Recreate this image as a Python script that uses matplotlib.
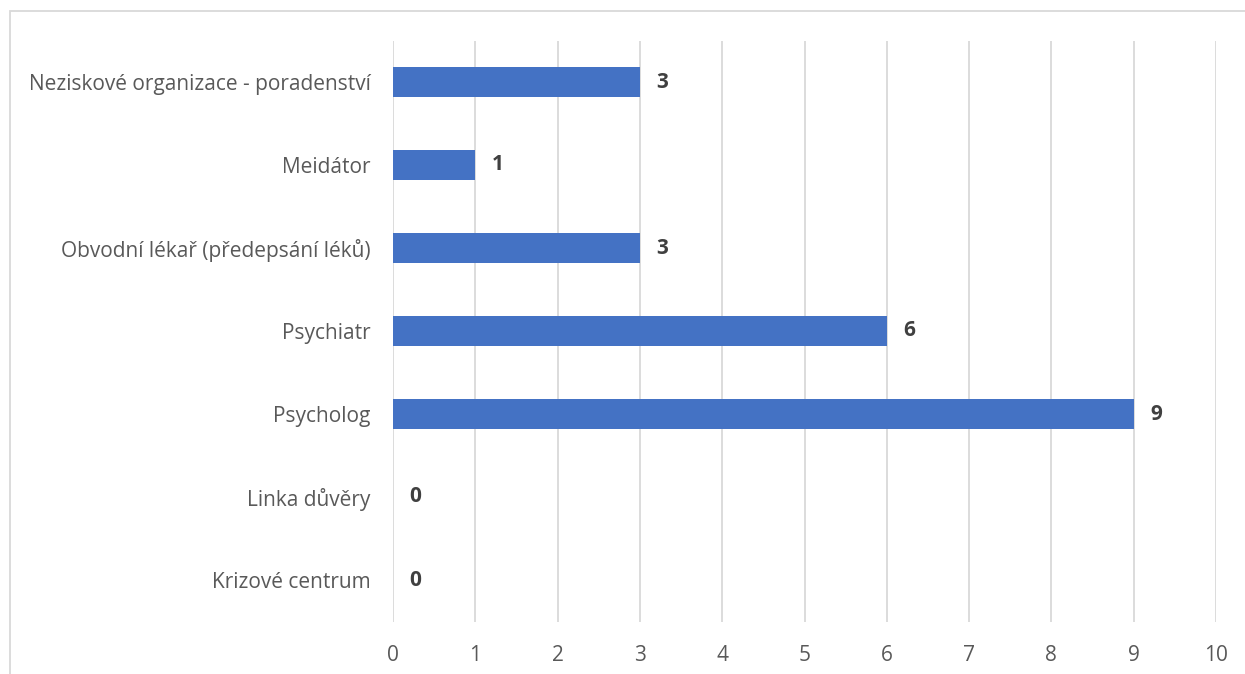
import matplotlib
matplotlib.use("Agg")
import matplotlib.pyplot as plt
from matplotlib.patches import Rectangle

categories = [
    "Krizové centrum",
    "Linka důvěry",
    "Psycholog",
    "Psychiatr",
    "Obvodní lékař (předepsání léků)",
    "Meidátor",
    "Neziskové organizace - poradenství",
]
values = [0, 0, 9, 6, 3, 1, 3]
x_ticks = list(range(0, 11))

W, H = 1245, 674
fig = plt.figure(figsize=(W / 100, H / 100), dpi=100)
plt.rcParams["font.family"] = ["Open Sans", "DejaVu Sans"]

# light frame around the chart area
fig.patches.append(Rectangle((10 / W, -0.1), 1.2, 1 - 11 / H + 0.1,
                             transform=fig.transFigure, fill=False,
                             edgecolor="#d9d9d9", linewidth=1.3))

left, right = 393 / W, 1216 / W
top, bottom = 1 - 40.5 / H, 1 - 621.5 / H
ax = fig.add_axes([left, bottom, right - left, top - bottom])

y = list(range(len(categories)))
ax.barh(y, values, height=0.35, color="#4472C4", zorder=3)
for yi, v in zip(y, values):
    ax.text(v + 0.2, yi, str(v), va="center", ha="left",
            fontsize=15, fontweight="bold", color="#404040")

ax.set_xlim(0, 10)
ax.set_ylim(-0.5, len(categories) - 0.5)
ax.set_xticks(x_ticks)
ax.set_yticks(y)
ax.set_yticklabels(categories)
ax.xaxis.grid(True, color="#d9d9d9", linewidth=1.3, zorder=0)
ax.set_axisbelow(True)
for s in ax.spines.values():
    s.set_visible(False)
ax.tick_params(axis="both", length=0, labelsize=15, labelcolor="#595959")
ax.tick_params(axis="x", pad=17)
ax.tick_params(axis="y", pad=16)

fig.savefig("out.png", dpi=100)
